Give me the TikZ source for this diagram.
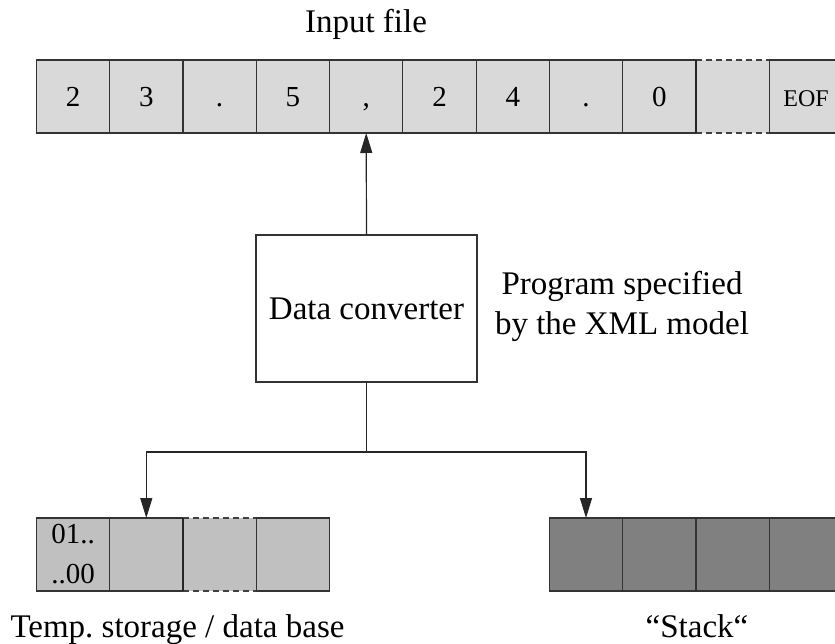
\documentclass[tikz,border=0pt]{standalone}
\usepackage{fontspec}
\setmainfont{Liberation Serif}
\definecolor{cellgray}{RGB}{217, 217, 217}
\definecolor{storegray}{RGB}{192, 192, 192}
\definecolor{stackgray}{RGB}{128, 128, 128}
\usetikzlibrary{arrows.meta, positioning}
\tikzset{
	basecell/.style={rectangle, draw=black!80, fill=cellgray, line width=1.2pt, minimum width=73.3pt, minimum height=73pt, inner sep=0pt, outer sep=0pt, font=\fontsize{29}{40}\selectfont},
	cell/.style={basecell, text height=20pt, text depth=0pt},
	gapcell/.style={cell, draw=none},
	storecell/.style={cell, fill=storegray},
	stackcell/.style={cell, fill=stackgray},
	conv/.style={rectangle, draw=black!80, fill=white, line width=1.2pt, minimum width=221pt, minimum height=147pt, inner sep=0pt, outer sep=0pt, font=\fontsize{33}{40}\selectfont},
	caption/.style={inner sep=0pt, align=center, font=\fontsize{33}{40}\selectfont},
	arrow/.style={-{Triangle[length=20pt, width=12pt]}, line width=1.2pt, draw=black!85},
	plainline/.style={line width=1.2pt, draw=black!85},
	gapline/.style={dash pattern=on 6pt off 4pt, line width=1.2pt, draw=black!75},
}

\begin{document}
\begin{tikzpicture}[x=1pt, y=-1pt]
		\useasboundingbox (0,0) rectangle (835,644);
		% input file
		\node[cell] (c1) at (73,96.5) {2};
		\node[cell, right=0pt of c1] (c2) {3};
		\node[cell, right=0pt of c2] (c3) {.};
		\node[cell, right=0pt of c3] (c4) {5};
		\node[cell, right=0pt of c4] (c5) {,};
		\node[cell, right=0pt of c5] (c6) {2};
		\node[cell, right=0pt of c6] (c7) {4};
		\node[cell, right=0pt of c7] (c8) {.};
		\node[cell, right=0pt of c8] (c9) {0};
		\node[gapcell, right=0pt of c9] (c10) {};
		\node[cell, right=0pt of c10, font=\fontsize{24}{28}\selectfont] (c11) {EOF};
		\draw[gapline] (c10.north west) -- (c10.north east);
		\draw[gapline] (c10.south west) -- (c10.south east);
		\draw[plainline] (c10.north west) -- (c10.south west);
		\node[caption, anchor=base] (infile) at (366,33) {Input file};

		% converter
		\node[conv] (dc) at (366.5,308.5) {Data converter};
		\node[caption] (prog) at (622,306) {Program specified\\by the XML model};
		\coordinate[below=70pt of dc] (split);

		% temp. storage
		\node[basecell, fill=storegray, align=center] (t1) at (73,554.5) {01..\\..00};
		\node[storecell, right=0pt of t1] (t2) {};
		\node[storecell, draw=none, right=0pt of t2] (t3) {};
		\node[storecell, right=0pt of t3] (t4) {};
		\draw[gapline] (t3.north west) -- (t3.north east);
		\draw[gapline] (t3.south west) -- (t3.south east);
		\draw[plainline] (t3.north west) -- (t3.south west);
		\node[caption, anchor=base] (store) at (177.5,637) {Temp.\ storage / data base};

		% stack
		\node[stackcell] (s1) at (586,554.5) {};
		\node[stackcell, right=0pt of s1] (s2) {};
		\node[stackcell, right=0pt of s2] (s3) {};
		\node[stackcell, right=0pt of s3] (s4) {};
		\node[caption, anchor=base] (stack) at (697,637) {“Stack“};

		\draw[arrow] (dc.north) -- (c5.south);
		\draw[plainline] (dc.south) -- (split);
		\draw[arrow] (split) -| (t2.north);
		\draw[arrow] (split) -| (s1.north);
	\end{tikzpicture}
\end{document}
